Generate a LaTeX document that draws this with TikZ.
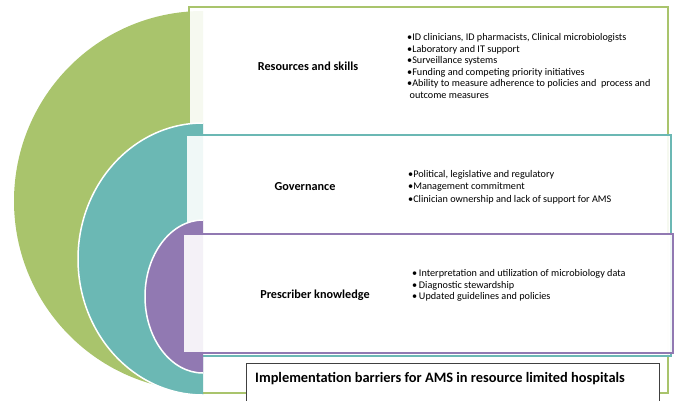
\documentclass[tikz,border=0pt]{standalone}
\usepackage{fontspec}
\setmainfont{Carlito}
\definecolor{cgreen}{HTML}{A9C46C}
\definecolor{cteal}{HTML}{6BB8B4}
\definecolor{cpurple}{HTML}{9179B2}
\begin{document}
\begin{tikzpicture}[x=1pt,y=-1pt,
  lobeline/.style={draw=white,line width=1.5pt},
  panel/.style={line width=1.6pt,fill=white,fill opacity=0.9},
  heading/.style={font=\bfseries\fontsize{12.2}{14}\selectfont,inner sep=0pt},
  items/.style={align=left,anchor=west,inner sep=0pt},
  titlebox/.style={draw=black!75,line width=0.9pt,fill=white}]
\useasboundingbox (0,0) rectangle (675,400);
\clip (0,0) rectangle (675,400);
% green level
\fill[cgreen] (203,11) arc[start angle=90,end angle=270,x radius=189pt,y radius=190pt] -- cycle;
\draw[panel,draw=cgreen] (189,7) rectangle (668,393);
% teal level
\fill[cteal] (203,123) arc[start angle=90,end angle=270,x radius=125pt,y radius=136pt] -- cycle;
\draw[lobeline] (203,123) arc[start angle=90,end angle=270,x radius=125pt,y radius=136pt];
\draw[panel,draw=cteal] (186,135) rectangle (671,356);
% purple level
\fill[cpurple] (203,220) arc[start angle=90,end angle=270,x radius=58pt,y radius=76.5pt] -- cycle;
\draw[lobeline] (203,220) arc[start angle=90,end angle=270,x radius=58pt,y radius=76.5pt];
\draw[panel,draw=cpurple] (183,234) rectangle (673,353);
% headings
\node[heading] (h1) at (308,66) {Resources and skills};
\node[heading] (h2) at (305,187) {Governance};
\node[heading] (h3) at (315,295) {Prescriber knowledge};
% item lists
\node[items,font=\fontsize{10.2}{11.6}\selectfont] (l1) at (407,66) {%
•ID clinicians, ID pharmacists, Clinical microbiologists\\
•Laboratory and IT support\\
•Surveillance systems\\
•Funding and competing priority initiatives\\
•Ability to measure adherence to policies and~ process and\\
\hspace*{2.5pt}outcome measures};
\node[items,font=\fontsize{10.2}{12.5}\selectfont] (l2) at (408,187) {%
•Political, legislative and regulatory\\
•Management commitment\\
•Clinician ownership and lack of support for AMS};
\node[items,font=\fontsize{10.2}{11.6}\selectfont] (l3) at (412,285.5) {%
•\,Interpretation and utilization of microbiology data\\
•\,Diagnostic stewardship\\
•\,Updated guidelines and policies};
% title
\draw[titlebox] (246,363) rectangle (659,412);
\node[anchor=west,inner sep=0pt,font=\bfseries\fontsize{14.4}{16}\selectfont] (t) at (255,379) {Implementation barriers for AMS in resource limited hospitals};
\end{tikzpicture}
\end{document}
